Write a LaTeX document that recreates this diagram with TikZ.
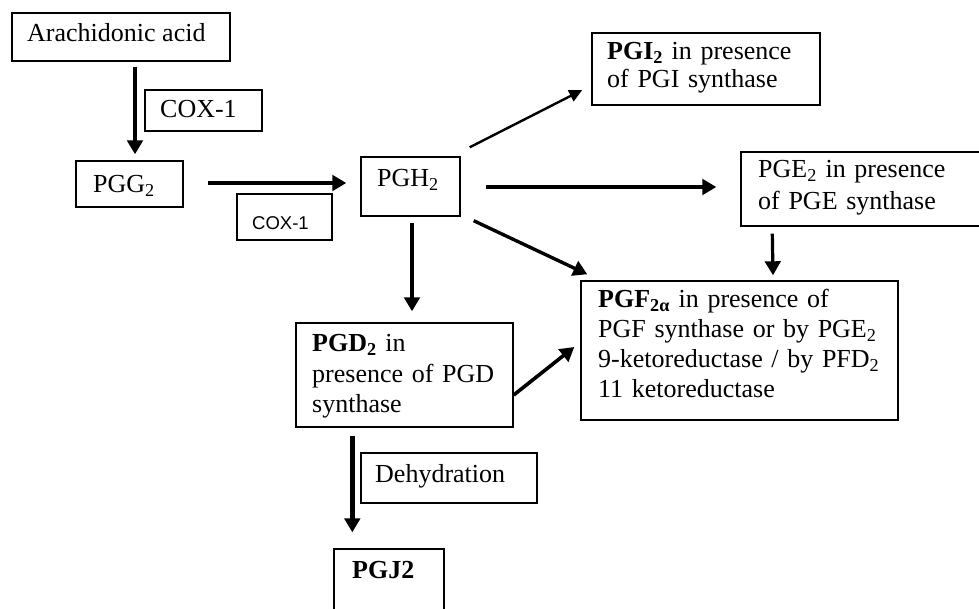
\documentclass[tikz,border=0pt]{standalone}
\usepackage{fontspec}
\setmainfont{Liberation Serif}
\newfontfamily\coxfont{Liberation Sans}
\usetikzlibrary{arrows.meta,calc}
\newcommand\mainsz{\fontsize{26}{30}\selectfont}
\tikzset{
  bx/.style={draw, line width=1.4pt, inner sep=0pt},
  txt/.style={anchor=base west, inner sep=0pt, font=\mainsz},
  mtxt/.style={anchor=base west, inner sep=0pt, font=\mainsz, align=left, text width=#1},
  arr/.style={line width=#1, -{Triangle[length=14pt,width=15.5pt]}},
  arr/.default=3.8pt,
  thinarr/.style={line width=2.4pt, -{Triangle[length=13pt,width=12pt]}}
}
\begin{document}
\begin{tikzpicture}[x=1pt,y=-1pt]
\useasboundingbox (0,0) rectangle (979,609);
\clip (0,0) rectangle (979,609);
\fill[white] (0,0) rectangle (979,609);

% boxes
\node[bx, minimum width=218pt, minimum height=48pt] (aa) at (121,37) {};
\node[bx, minimum width=117pt, minimum height=41pt] (cox1) at (203.5,110.5) {};
\node[bx, minimum width=107pt, minimum height=46pt] (pgg) at (129.5,184) {};
\node[bx, minimum width=95pt, minimum height=46pt] (cox1b) at (284.5,217) {};
\node[bx, minimum width=99pt, minimum height=59pt] (pgh) at (410.5,186.5) {};
\node[bx, minimum width=228pt, minimum height=72pt] (pgi) at (706,69) {};
\node[bx, minimum width=249pt, minimum height=74pt] (pge) at (865.5,189) {};
\node[bx, minimum width=317pt, minimum height=139pt] (pgf) at (739.5,350.5) {};
\node[bx, minimum width=217pt, minimum height=104pt] (pgd) at (404.5,375) {};
\node[bx, minimum width=176pt, minimum height=50pt] (dehyd) at (449,478) {};
\node[bx, minimum width=110pt, minimum height=91pt] (pgj) at (389,594.5) {};

% texts
\node[txt] (taa) at (27,42) {Arachidonic acid};
\node[txt] (tcox1) at (160,118) {COX-1};
\node[txt] (tpgg) at (93,193) {PGG\textsubscript{2}};
\node[anchor=base west, inner sep=0pt, font=\coxfont\fontsize{18.5}{20}\selectfont] (tcox1b) at (252,230) {COX-1};
\node[txt] (tpgh) at (377,187) {PGH\textsubscript{2}};
\node[mtxt=215pt, font=\fontsize{26}{28}\selectfont] (tpgi) at (607,60) {\textbf{PGI\textsubscript{2}} in presence\\of PGI synthase};
\node[mtxt=215pt, font=\fontsize{26}{32}\selectfont] (tpge) at (758,178) {PGE\textsubscript{2} in presence\\of PGE synthase};
\node[mtxt=300pt, font=\fontsize{26}{29.7}\selectfont] (tpgf) at (598,308) {\textbf{PGF\textsubscript{2α}} in presence of\\PGF synthase or by PGE\textsubscript{2}\\9-ketoreductase / by PFD\textsubscript{2}\\11 ketoreductase};
\node[mtxt=200pt, font=\fontsize{26}{30}\selectfont] (tpgd) at (312,352) {\textbf{PGD\textsubscript{2}} in\\presence of PGD\\synthase};
\node[txt] (tdehyd) at (375,482) {Dehydration};
\node[txt, font=\mainsz\bfseries] (tpgj) at (352,578) {PGJ2};

% connectors
\draw[arr=4pt] ($(aa.south)+(14,5)$) -- ($(pgg.north)+(5.5,-6)$);
\draw[arr] ($(pgg.east)+(24,-1)$) -- ($(pgh.west)+(-14,-3.5)$);
\draw[thinarr] ($(pgh.north east)+(9,-9)$) -- ($(pgi.west)+(-9,21)$);
\draw[arr] ($(pgh.east)+(25,0.5)$) -- ($(pge.west)+(-24,-2)$);
\draw[arr=3.4pt] ($(pgh.south east)+(13,4)$) -- ($(pgf.north west)+(7,-6)$);
\draw[arr=4.2pt] ($(pgh.south)+(1.5,6)$) -- ($(pgd.north)+(7.5,-11)$);
\draw[arr=3.2pt] ($(pge.south west)+(32,7)$) -- ($(pgf.north)+(33.5,-5)$);
\draw[arr=3.6pt] ($(pgd.east)+(0,20)$) -- ($(pgf.west)+(-6,-3.5)$);
\draw[arr=5.5pt] ($(pgd.south west)+(57,8)$) -- ($(pgj.north west)+(19,-16)$);
\end{tikzpicture}
\end{document}
